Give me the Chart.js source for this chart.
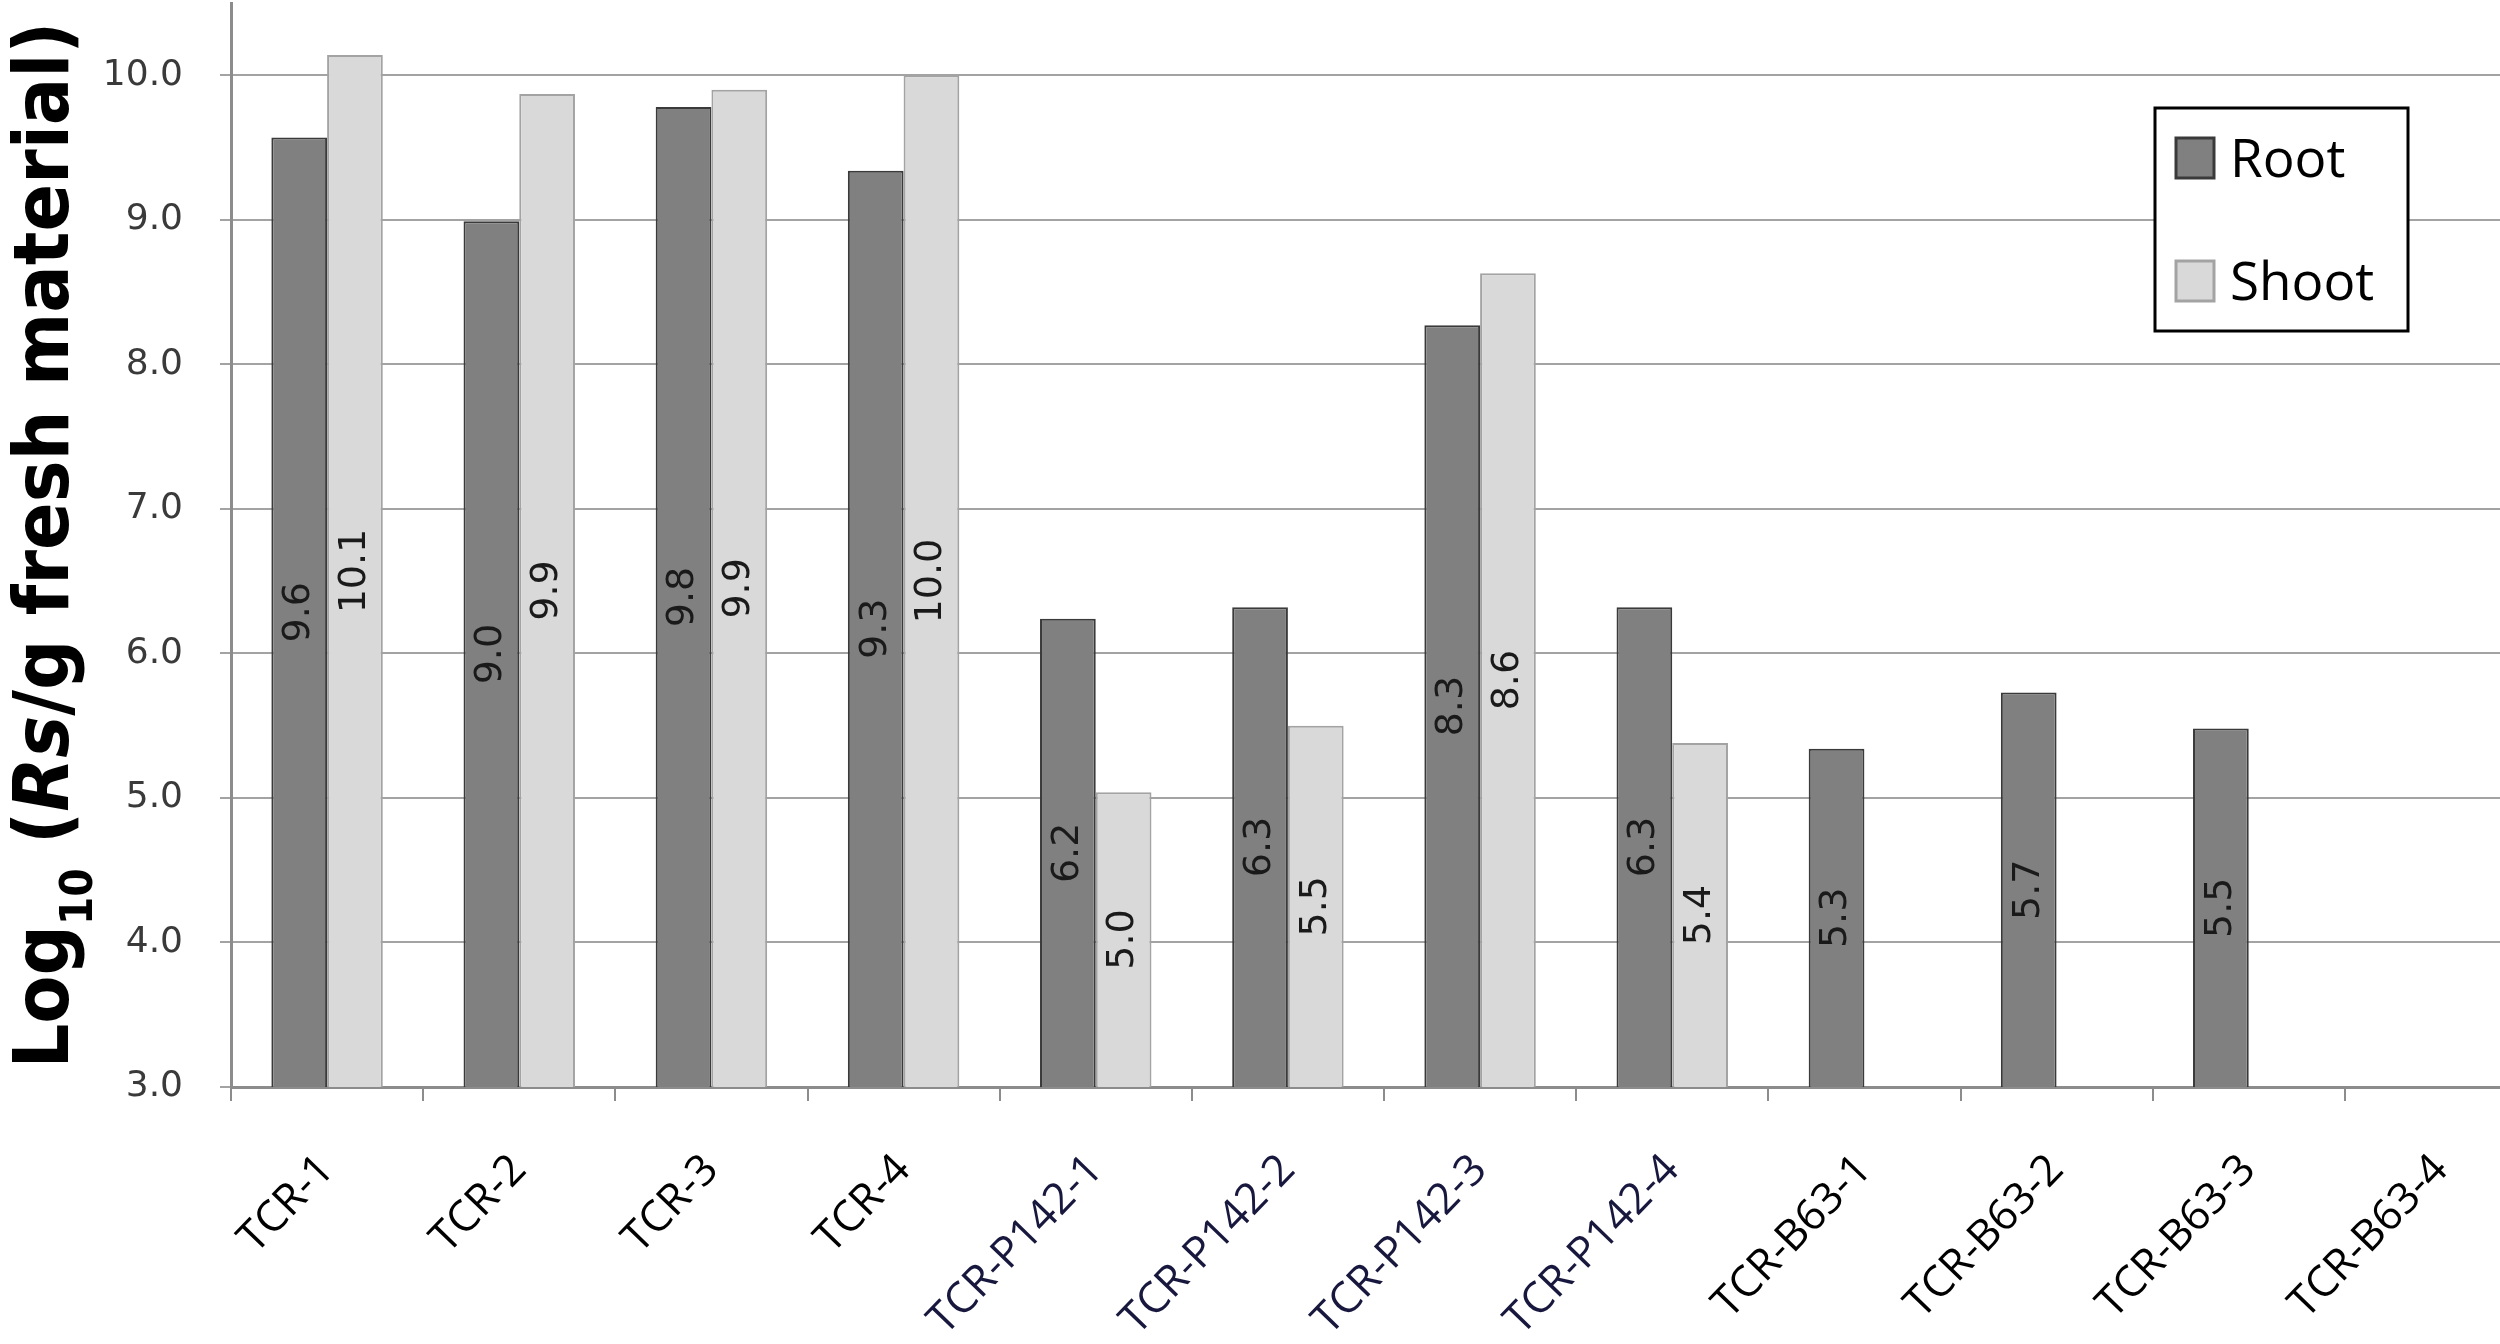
<!DOCTYPE html>
<html>
<head>
<meta charset="utf-8">
<title>Rs population in root and shoot</title>
<script src="https://cdn.jsdelivr.net/npm/chart.js@4.4.1/dist/chart.umd.min.js"></script>
<style>
  html, body { margin: 0; padding: 0; background: #fff; overflow: hidden; }
  /* plot runs a little past the right edge, as in the cropped original */
  #wrap { width: 2500px; height: 1344px; overflow: hidden; }
</style>
</head>
<body>
<div id="wrap"><canvas id="rsChart" width="2537" height="1344"></canvas></div>
<script>
/* Log10 Rs per g fresh material, root vs shoot, per line. */

const categories = [
  'TCR-1', 'TCR-2', 'TCR-3', 'TCR-4',
  'TCR-P142-1', 'TCR-P142-2', 'TCR-P142-3', 'TCR-P142-4',
  'TCR-B63-1', 'TCR-B63-2', 'TCR-B63-3', 'TCR-B63-4'
];
const rootValues  = [9.57, 8.99, 9.78, 9.34, 6.24, 6.32, 8.27, 6.32, 5.34, 5.73, 5.48, 3.0];
const shootValues = [10.14, 9.87, 9.90, 10.0, 5.04, 5.50, 8.63, 5.38, 3.0, 3.0, 3.0, 3.0];
const yTicks = [3, 4, 5, 6, 7, 8, 9, 10];
const labelColors = [
  '#000', '#000', '#000', '#000',
  '#18183e', '#18183e', '#18183e', '#18183e',
  '#000', '#000', '#000', '#000'
];

const Y_MIN = 3;
const Y_MAX = 10.5;

/** Value labels, rotated, centred inside the visible part of each bar. */
const barValueLabels = {
  id: 'barValueLabels',
  afterDatasetsDraw(chart) {
    const ctx = chart.ctx;
    const bottom = chart.chartArea.bottom;
    ctx.save();
    ctx.font = '38px "DejaVu Sans", sans-serif';
    ctx.fillStyle = '#1a1a1a';
    ctx.textAlign = 'center';
    ctx.textBaseline = 'middle';
    chart.data.datasets.forEach((ds, di) => {
      chart.getDatasetMeta(di).data.forEach((bar, i) => {
        const v = ds.data[i];
        if (v == null || v <= Y_MIN) return;
        const base = Math.min(bar.base, bottom);
        ctx.save();
        ctx.translate(bar.x, (bar.y + base) / 2);
        ctx.rotate(-Math.PI / 2);
        ctx.fillText(v.toFixed(1), 0, 0);
        ctx.restore();
      });
    });
    ctx.restore();
  }
};

/** Boxed legend in the upper right of the plot. */
const boxLegend = {
  id: 'boxLegend',
  afterDraw(chart) {
    const { ctx, chartArea } = chart;
    const x = chartArea.right - 382;
    const y = chartArea.top + 105;
    const w = 253, h = 223;
    ctx.save();
    ctx.fillStyle = '#fff';
    ctx.fillRect(x, y, w, h);
    ctx.strokeStyle = '#000';
    ctx.lineWidth = 3;
    ctx.strokeRect(x, y, w, h);
    ctx.font = '53px "Open Sans", "Noto Sans", sans-serif';
    ctx.textBaseline = 'alphabetic';
    ctx.textAlign = 'left';
    chart.data.datasets.forEach((ds, i) => {
      const cy = y + 50 + i * 123;
      ctx.fillStyle = ds.backgroundColor;
      ctx.fillRect(x + 21, cy - 20, 38, 40);
      ctx.strokeStyle = ds.borderColor;
      ctx.lineWidth = 3;
      ctx.strokeRect(x + 21, cy - 20, 38, 40);
      ctx.fillStyle = '#000';
      ctx.fillText(ds.label, x + 75, cy + 19);
    });
    ctx.restore();
  }
};

/** Y title with subscript and italic part, squeezed to a condensed look. */
const yTitle = {
  id: 'yTitle',
  afterDraw(chart) {
    const { ctx, chartArea } = chart;
    const fam = '"Liberation Sans Narrow", "DejaVu Sans Condensed", "Liberation Sans", sans-serif';
    const parts = [
      { t: 'Log', f: 'bold 76px ' + fam, dy: 0 },
      { t: '10', f: 'bold 44px ' + fam, dy: 24 },
      { t: ' (', f: 'bold 76px ' + fam, dy: 0 },
      { t: 'Rs', f: 'italic bold 76px ' + fam, dy: 0 },
      { t: '/g fresh material)', f: 'bold 76px ' + fam, dy: 0 }
    ];
    ctx.save();
    let total = 0;
    parts.forEach((p) => { ctx.font = p.f; p.w = ctx.measureText(p.t).width; total += p.w; });
    const sx = 1047 / total;
    ctx.translate(68, (chartArea.top + chartArea.bottom) / 2);
    ctx.rotate(-Math.PI / 2);
    ctx.scale(sx, 1);
    ctx.fillStyle = '#000';
    ctx.textBaseline = 'alphabetic';
    ctx.textAlign = 'left';
    let cx = -total / 2;
    parts.forEach((p) => {
      ctx.font = p.f;
      ctx.fillText(p.t, cx, p.dy);
      cx += p.w;
    });
    ctx.restore();
  }
};

new Chart(document.getElementById('rsChart'), {
  type: 'bar',
  data: {
    labels: categories,
    datasets: [
      { label: 'Root', data: rootValues, backgroundColor: '#808080', borderColor: '#3a3a3a', borderWidth: 2 },
      { label: 'Shoot', data: shootValues, backgroundColor: '#d9d9d9', borderColor: '#a3a3a3', borderWidth: 2 }
    ]
  },
  options: {
    responsive: false,
    animation: false,
    devicePixelRatio: 1,
    layout: { padding: { top: 3, right: 0, left: 0, bottom: 0 } },
    datasets: { bar: { categoryPercentage: 0.58, barPercentage: 1.0 } },
    plugins: {
      legend: { display: false },
      tooltip: { enabled: false },
      title: { display: false }
    },
    scales: {
      x: {
        grid: { display: true, drawOnChartArea: false, drawTicks: true, tickLength: 14, color: '#8c8c8c', lineWidth: 2, offset: true },
        border: { color: '#8c8c8c', width: 3 },
        ticks: {
          autoSkip: false,
          maxRotation: 46,
          minRotation: 46,
          padding: 44,
          font: { family: '"Open Sans", "Noto Sans", sans-serif', size: 43 },
          color: (c) => labelColors[c.index] || '#000'
        },
        afterFit(scale) {
          scale.height = 257;
          scale.paddingLeft = 0;
          scale.paddingRight = 0;
        }
      },
      y: {
        min: Y_MIN,
        max: Y_MAX,
        grid: { color: '#a3a3a3', lineWidth: 2, tickLength: 11, drawTicks: true },
        border: { color: '#8c8c8c', width: 3 },
        ticks: {
          padding: 37,
          font: { family: '"DejaVu Sans", sans-serif', size: 36 },
          color: '#3a3a3a',
          callback: (v) => Number(v).toFixed(1)
        },
        afterBuildTicks(scale) { scale.ticks = yTicks.map((v) => ({ value: v })); },
        afterFit(scale) {
          scale.width = 231;
          scale.paddingTop = 0;
          scale.paddingBottom = 0;
        }
      }
    }
  },
  plugins: [barValueLabels, boxLegend, yTitle]
});
</script>
</body>
</html>
